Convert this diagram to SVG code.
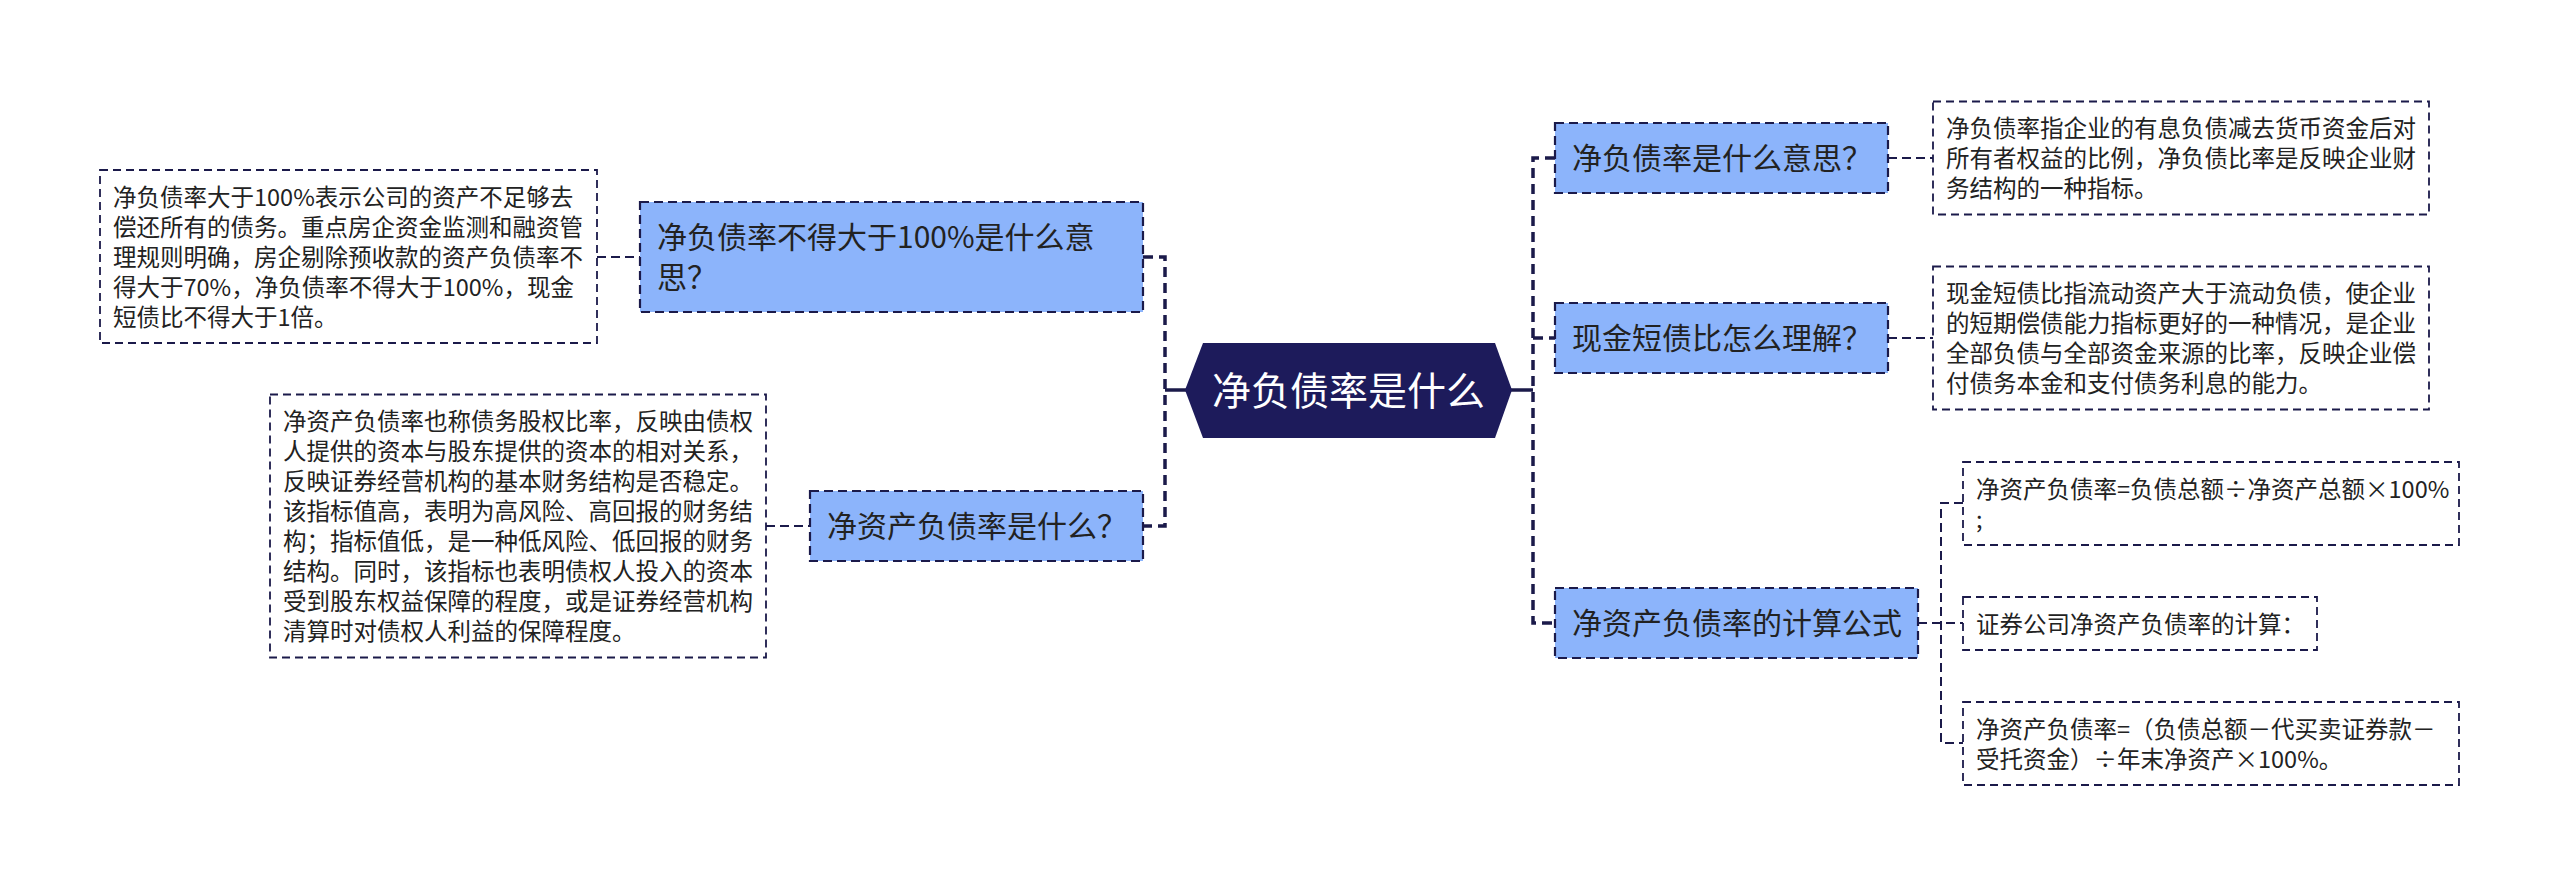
<svg xmlns="http://www.w3.org/2000/svg" width="2560" height="887" viewBox="0 0 2560 887">
<style>
text{font-family:"Noto Sans CJK SC","Noto Sans",sans-serif;fill:#222;}
.t{font-size:23.5px;}
.n{font-size:30px;}
.c{font-size:39px;fill:#fff;}
.node{fill:#8cb4fb;stroke:#1b1a4a;stroke-width:2.2;stroke-dasharray:9 5;}
.box{fill:#fff;stroke:#1b1a4a;stroke-width:1.8;stroke-dasharray:8 5;}
.main{fill:none;stroke:#1b1a4a;stroke-width:3.5;stroke-dasharray:10 6;}
.sub{fill:none;stroke:#1b1a4a;stroke-width:2;stroke-dasharray:9 5;}
.solid{fill:none;stroke:#1b1a4a;stroke-width:3.5;}
</style>
<rect width="2560" height="887" fill="#fff"/>
<g id="connectors">
<path class="main" d="M1143,257 H1165 V526 H1143"/>
<path class="solid" d="M1165,390 H1186"/>
<path class="main" d="M1555,158 H1533 V623 H1555"/>
<path class="main" d="M1533,338 H1555"/>
<path class="solid" d="M1511,390 H1533"/>
<path class="sub" d="M597,257 H640"/>
<path class="sub" d="M766,526 H810"/>
<path class="sub" d="M1888,158 H1933"/>
<path class="sub" d="M1888,338 H1933"/>
<path class="sub" d="M1918,623 H1963"/>
<path class="sub" d="M1963,503 H1941 V743 H1963"/>
</g>
<g id="center">
<polygon points="1185,390 1203,343 1495,343 1512,390 1495,438 1203,438" fill="#1d1b5b"/>
<text class="c" x="1348.5" y="404.5" text-anchor="middle">净负债率是什么</text>
</g>
<g id="left-node-1">
<rect class="node" x="640" y="202" width="503" height="110"/>
<text class="n" x="657" y="248.4">净负债率不得大于100%是什么意</text>
<text class="n" x="657" y="288.4">思？</text>
</g>
<g id="left-text-1">
<rect class="box" x="100" y="170" width="497" height="173"/>
<text class="t" x="113" y="205.5">净负债率大于100%表示公司的资产不足够去</text>
<text class="t" x="113" y="235.5">偿还所有的债务。重点房企资金监测和融资管</text>
<text class="t" x="113" y="265.5">理规则明确，房企剔除预收款的资产负债率不</text>
<text class="t" x="113" y="295.5">得大于70%，净负债率不得大于100%，现金</text>
<text class="t" x="113" y="325.5">短债比不得大于1倍。</text>
</g>
<g id="left-node-2">
<rect class="node" x="810" y="491" width="333" height="70"/>
<text class="n" x="827" y="537.4">净资产负债率是什么？</text>
</g>
<g id="left-text-2">
<rect class="box" x="270" y="394.5" width="496" height="263"/>
<text class="t" x="283" y="429.5">净资产负债率也称债务股权比率，反映由债权</text>
<text class="t" x="283" y="459.5">人提供的资本与股东提供的资本的相对关系，</text>
<text class="t" x="283" y="489.5">反映证券经营机构的基本财务结构是否稳定。</text>
<text class="t" x="283" y="519.5">该指标值高，表明为高风险、高回报的财务结</text>
<text class="t" x="283" y="549.5">构；指标值低，是一种低风险、低回报的财务</text>
<text class="t" x="283" y="579.5">结构。同时，该指标也表明债权人投入的资本</text>
<text class="t" x="283" y="609.5">受到股东权益保障的程度，或是证券经营机构</text>
<text class="t" x="283" y="639.5">清算时对债权人利益的保障程度。</text>
</g>
<g id="right-node-1">
<rect class="node" x="1555" y="123" width="333" height="70"/>
<text class="n" x="1572" y="169.4">净负债率是什么意思？</text>
</g>
<g id="right-text-1">
<rect class="box" x="1933" y="101.5" width="496" height="113"/>
<text class="t" x="1946" y="137">净负债率指企业的有息负债减去货币资金后对</text>
<text class="t" x="1946" y="167">所有者权益的比例，净负债比率是反映企业财</text>
<text class="t" x="1946" y="197">务结构的一种指标。</text>
</g>
<g id="right-node-2">
<rect class="node" x="1555" y="303" width="333" height="70"/>
<text class="n" x="1572" y="349.4">现金短债比怎么理解？</text>
</g>
<g id="right-text-2">
<rect class="box" x="1933" y="266.5" width="496" height="143"/>
<text class="t" x="1946" y="302">现金短债比指流动资产大于流动负债，使企业</text>
<text class="t" x="1946" y="332">的短期偿债能力指标更好的一种情况，是企业</text>
<text class="t" x="1946" y="362">全部负债与全部资金来源的比率，反映企业偿</text>
<text class="t" x="1946" y="392">付债务本金和支付债务利息的能力。</text>
</g>
<g id="right-node-3">
<rect class="node" x="1555" y="588" width="363" height="70"/>
<text class="n" x="1572" y="634.4">净资产负债率的计算公式</text>
</g>
<g id="sub-a">
<rect class="box" x="1963" y="462" width="496" height="83"/>
<text class="t" x="1976" y="497.5">净资产负债率=负债总额÷净资产总额×100%</text>
<text class="t" x="1976" y="527.5">;</text>
</g>
<g id="sub-b">
<rect class="box" x="1963" y="597" width="354" height="53"/>
<text class="t" x="1976" y="632.5">证券公司净资产负债率的计算：</text>
</g>
<g id="sub-c">
<rect class="box" x="1963" y="702" width="496" height="83"/>
<text class="t" x="1976" y="737.5">净资产负债率=（负债总额－代买卖证券款－</text>
<text class="t" x="1976" y="767.5">受托资金）÷年末净资产×100%。</text>
</g>
</svg>
